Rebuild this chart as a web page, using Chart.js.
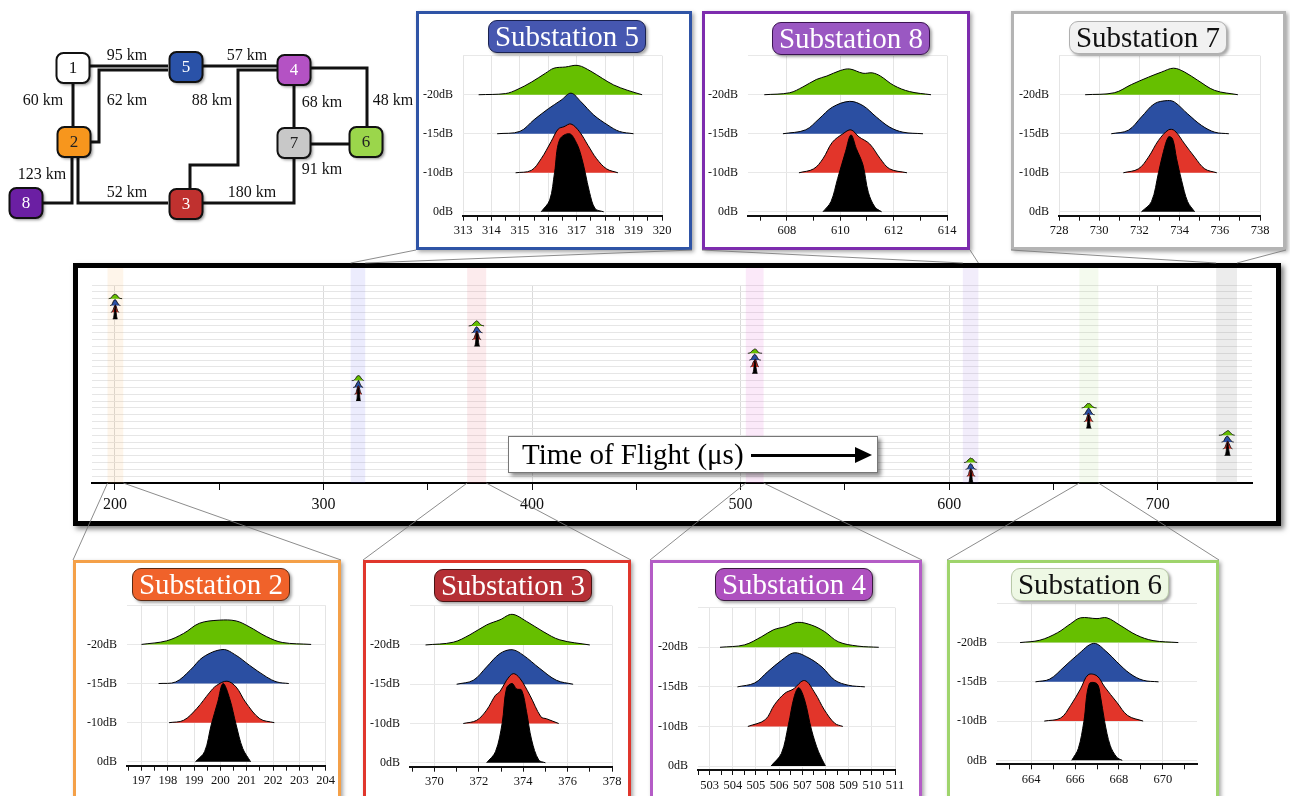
<!DOCTYPE html>
<html lang="en">
<head>
<meta charset="UTF-8">
<title>Time of Flight per substation</title>
<script src="https://cdn.jsdelivr.net/npm/chart.js"></script>
<style>
  body { margin: 0; width: 1290px; height: 796px; background: #fff; position: relative; overflow: hidden;
         font-family: 'Liberation Serif', 'Times New Roman', serif; }
  .panel { position: absolute; box-sizing: border-box; border: 3px solid #999; background: #fff;
           box-shadow: 2px 2px 4px rgba(0,0,0,0.35); }
  .panel canvas { position: absolute; left: 0; top: 0; z-index: 1; }
  .pill { position: absolute; width: 158px; height: 33px; box-sizing: border-box; border: 1px solid #333;
          border-radius: 9px; text-align: center; font-size: 29px; line-height: 31px; z-index: 2;
          box-shadow: 2px 2px 3px rgba(0,0,0,0.35); white-space: nowrap; }
  #mainBox { position: absolute; left: 73px; top: 263px; width: 1208px; height: 263px; box-sizing: border-box;
             border: 5px solid #000; background: #fff; box-shadow: 3px 3px 5px rgba(0,0,0,0.5); }
  #mainBox canvas { position: absolute; left: 0; top: 0; }
  #tof { position: absolute; left: 508px; top: 436px; width: 370px; height: 37px; box-sizing: border-box;
         border: 1px solid #777; background: #fff; box-shadow: 3px 3px 4px rgba(0,0,0,0.45);
         font-size: 29px; line-height: 35px; padding-left: 13px; z-index: 3; }
  #tof .shaft { position: absolute; left: 242px; top: 17px; width: 106px; height: 3px; background: #000; }
  #tof .head { position: absolute; left: 346px; top: 10px; width: 0; height: 0;
               border-top: 8px solid transparent; border-bottom: 8px solid transparent; border-left: 17px solid #000; }
  #net { position: absolute; left: 0; top: 40px; }
  #overlay { position: absolute; left: 0; top: 0; z-index: 5; pointer-events: none; }
</style>
</head>
<body>
<canvas id="net" width="420" height="192"></canvas>
<div id="mainBox"><canvas id="mainCanvas" width="1198" height="253"></canvas></div>
<div id="tof">Time of Flight (μs)<span class="shaft"></span><span class="head"></span></div>
<canvas id="overlay" width="1290" height="796"></canvas>
<script>
// ---- data ----
const substationNames = ['Substation 2', 'Substation 3', 'Substation 4', 'Substation 5', 'Substation 6', 'Substation 7', 'Substation 8'];
const mainRows = [24, 20, 16, 12, 8, 4, 0];
const zoomRanges = [[196.45, 204], [368.9, 378], [502.5, 511], [313, 320], [662.45, 671.55], [728, 738], [606.54, 614]];
const zoomSteps = [0.5, 1, 0.5, 0.5, 1, 1, 1];
const labelEvery = [1, 2, 1, 1, 2, 2, 2];
const levelLabels = ['0dB', '-10dB', '-15dB', '-20dB'];
const levelColors = ['#000000', '#e2352a', '#2b4fa2', '#66bf00'];
const bandColors = ['rgba(245,170,80,0.12)', 'rgba(230,90,110,0.12)', 'rgba(230,100,210,0.14)', 'rgba(110,110,240,0.13)',
                    'rgba(150,210,90,0.10)', 'rgba(110,110,110,0.13)', 'rgba(150,110,220,0.12)'];

// pulse shapes [time µs, height] for 0dB, -10dB, -15dB, -20dB
const s2Black = [[199.05,0],[199.4,0.26],[199.65,0.94],[199.9,1.53],[200.1,2.0],[200.35,1.62],[200.6,0.94],[200.85,0.34],[201.15,0]];
const s2Red   = [[198.05,0],[198.6,0.06],[199.1,0.36],[199.6,0.78],[199.85,0.95],[200.25,1.06],[200.6,0.91],[200.95,0.53],[201.5,0.1],[202.05,0]];
const s2Blue  = [[197.65,0],[198.3,0.04],[198.85,0.34],[199.35,0.68],[200.1,0.87],[200.6,0.72],[201.1,0.47],[201.75,0.17],[202.15,0.04],[202.6,0]];
const s2Green = [[197.0,0],[197.95,0.09],[198.6,0.28],[199.2,0.54],[199.95,0.62],[200.6,0.6],[201.1,0.45],[201.75,0.2],[202.35,0.05],[203.45,0]];

const s3Black = [[372.35,0],[372.75,0.28],[373.05,1.0],[373.25,1.9],[373.5,2.02],[373.7,1.88],[373.93,1.85],[374.15,1.3],[374.38,0.58],[374.7,0.07],[375.0,0]];
const s3Red   = [[371.3,0],[371.9,0.08],[372.35,0.34],[372.75,0.72],[372.95,0.81],[373.25,1.1],[373.55,1.27],[373.85,1.15],[374.3,0.72],[374.8,0.17],[375.05,0.12],[375.6,0]];
const s3Blue  = [[371.0,0],[371.75,0.1],[372.35,0.44],[372.95,0.78],[373.5,0.88],[374.0,0.74],[374.75,0.4],[375.5,0.1],[376.25,0]];
const s3Green = [[369.6,0],[370.85,0.07],[371.6,0.26],[372.35,0.51],[372.95,0.64],[373.5,0.78],[374.15,0.6],[374.9,0.34],[375.65,0.13],[377.0,0]];

const s4Black = [[505.65,0],[506.1,0.32],[506.4,1.04],[506.65,1.75],[506.85,1.98],[507.1,1.67],[507.4,0.91],[507.7,0.36],[508.0,0]];
const s4Red   = [[504.65,0],[505.4,0.17],[505.8,0.55],[506.25,0.84],[506.6,0.94],[507.1,1.16],[507.55,0.84],[507.95,0.42],[508.4,0.08],[508.75,0]];
const s4Blue  = [[504.2,0],[504.95,0.1],[505.5,0.38],[506.1,0.67],[506.65,0.86],[507.25,0.74],[507.85,0.5],[508.4,0.17],[509.0,0.04],[509.7,0]];
const s4Green = [[503.45,0],[504.5,0.06],[505.25,0.27],[505.75,0.44],[506.25,0.52],[506.8,0.63],[507.4,0.56],[507.95,0.4],[508.55,0.14],[509.4,0.03],[510.3,0]];

const s5Black = [[315.75,0],[316.05,0.3],[316.22,1.0],[316.4,1.85],[316.75,2.0],[317.0,1.75],[317.15,1.45],[317.3,1.0],[317.45,0.5],[317.65,0.08],[317.95,0]];
const s5Red   = [[314.85,0],[315.4,0.06],[315.75,0.36],[316.1,0.8],[316.35,1.12],[316.55,1.18],[316.8,1.25],[317.1,1.05],[317.4,0.7],[317.7,0.36],[318.05,0.1],[318.45,0]];
const s5Blue  = [[314.2,0],[315.0,0.06],[315.5,0.36],[316.0,0.64],[316.45,0.86],[316.8,1.04],[317.15,0.82],[317.6,0.48],[318.1,0.22],[318.5,0.06],[319.0,0]];
const s5Green = [[313.55,0],[314.5,0.03],[314.9,0.13],[315.4,0.32],[315.9,0.55],[316.2,0.68],[316.6,0.71],[317.05,0.75],[317.5,0.6],[317.9,0.42],[318.3,0.25],[318.8,0.11],[319.3,0]];

const s6Black = [[665.85,0],[666.15,0.3],[666.4,0.98],[666.65,1.95],[667.0,1.95],[667.15,1.66],[667.35,0.98],[667.6,0.38],[667.9,0.08],[668.15,0]];
const s6Red   = [[664.6,0],[665.35,0.08],[665.8,0.4],[666.25,0.82],[666.6,1.18],[667.0,1.15],[667.35,0.87],[667.9,0.48],[668.4,0.14],[669.1,0]];
const s6Blue  = [[664.2,0],[664.85,0.07],[665.5,0.38],[666.1,0.68],[666.85,0.98],[667.45,0.76],[667.9,0.51],[668.5,0.21],[669.1,0.04],[669.8,0]];
const s6Green = [[663.5,0],[664.4,0.06],[665.2,0.25],[665.8,0.48],[666.25,0.63],[667.0,0.61],[667.45,0.63],[668.05,0.44],[668.8,0.19],[669.55,0.05],[670.7,0]];

const s7Black = [[732.1,0],[732.6,0.26],[732.95,1.0],[733.2,1.55],[733.45,1.92],[733.65,1.87],[733.85,1.36],[734.1,0.8],[734.4,0.26],[734.75,0]];
const s7Red   = [[731.2,0],[731.95,0.1],[732.45,0.4],[732.95,0.83],[733.45,1.1],[733.75,1.08],[734.25,0.74],[734.75,0.4],[735.25,0.1],[735.85,0]];
const s7Blue  = [[730.6,0],[731.45,0.09],[732.1,0.43],[732.75,0.77],[733.4,0.85],[733.75,0.81],[734.4,0.51],[735.1,0.21],[735.75,0.04],[736.45,0]];
const s7Green = [[729.3,0],[730.75,0.05],[731.6,0.26],[732.45,0.45],[733.1,0.58],[733.7,0.68],[734.25,0.58],[734.9,0.37],[735.75,0.11],[736.9,0]];

const s8Black = [[609.35,0],[609.65,0.26],[609.9,0.85],[610.2,1.55],[610.4,1.97],[610.6,1.62],[610.85,1.2],[611.05,0.5],[611.3,0.12],[611.55,0]];
const s8Red   = [[608.45,0],[609.0,0.1],[609.35,0.36],[609.7,0.78],[610.1,1.0],[610.4,1.1],[610.7,0.92],[611.1,0.74],[611.5,0.36],[611.85,0.1],[612.5,0]];
const s8Blue  = [[607.85,0],[608.7,0.1],[609.2,0.38],[609.7,0.68],[610.35,0.83],[610.85,0.72],[611.35,0.43],[611.85,0.17],[612.35,0.04],[613.1,0]];
const s8Green = [[607.15,0],[608.1,0.05],[608.6,0.2],[609.1,0.39],[609.5,0.48],[610.0,0.62],[610.35,0.66],[610.85,0.55],[611.2,0.56],[611.5,0.48],[612.0,0.24],[612.6,0.08],[613.4,0]];

const curves = [
  [s2Black, s2Red, s2Blue, s2Green],
  [s3Black, s3Red, s3Blue, s3Green],
  [s4Black, s4Red, s4Blue, s4Green],
  [s5Black, s5Red, s5Blue, s5Green],
  [s6Black, s6Red, s6Blue, s6Green],
  [s7Black, s7Red, s7Blue, s7Green],
  [s8Black, s8Red, s8Blue, s8Green]
];

// network: nodes, routed links, link lengths
const nodeIds = ['1', '2', '3', '4', '5', '6', '7', '8'];
const nodeX = [73, 74, 186, 294, 186, 366, 294, 26];
const nodeY = [28, 102, 164, 30, 27, 102, 103, 163];
const nodeFill = ['#ffffff', '#f7961d', '#c0312f', '#b452c4', '#2a52a8', '#9bd64b', '#c8c8c8', '#6b1fa3'];
const nodeText = ['#111', '#222', '#fff', '#fff', '#fff', '#222', '#222', '#fff'];
const linkRoutes = [
  [[90, 26], [168, 26]],
  [[90, 102], [99, 102], [99, 30], [168, 30]],
  [[203, 26], [278, 26]],
  [[278, 30], [238, 30], [238, 125], [190, 125], [190, 148]],
  [[310, 28], [367, 28], [367, 87]],
  [[294, 45], [294, 88]],
  [[310, 104], [349, 104]],
  [[294, 118], [294, 163], [202, 163]],
  [[78, 117], [78, 163], [168, 163]],
  [[72, 117], [72, 163], [42, 163]],
  [[73, 43], [73, 87]]
];
const linkLabels = ['95 km', '57 km', '60 km', '62 km', '88 km', '68 km', '48 km', '91 km', '123 km', '52 km', '180 km'];
const linkLabelX = [127, 247, 43, 127, 212, 322, 393, 322, 42, 127, 252];
const linkLabelY = [16, 16, 61, 61, 61, 63, 61, 130, 135, 153, 153];

// ---- layout of the zoom panels (page px) ----
const panelLayout = [
  { box: [73, 560, 268, 240], plot: [127, 605.3, 327, 765.7], pill: [132, 568], border: '#f4a048', pillBg: '#f0622a', pillFg: '#fff', pillBorder: '#5a2a14', top: false },
  { box: [363, 560, 268, 240], plot: [410, 605.7, 612, 766.7], pill: [434, 569], border: '#e0362c', pillBg: '#b52f35', pillFg: '#fff', pillBorder: '#4a1414', top: false },
  { box: [650, 560, 272, 240], plot: [698, 607.7, 895, 770], pill: [715, 568], border: '#b45cc6', pillBg: '#ae50bf', pillFg: '#fff', pillBorder: '#3a1a40', top: false },
  { box: [416, 11, 276, 239], plot: [463, 55.7, 662, 215.7], pill: [488, 20], border: '#2f54a6', pillBg: '#4657b0', pillFg: '#fff', pillBorder: '#1a2250', top: true },
  { box: [947, 560, 272, 240], plot: [997, 603.3, 1197, 764.3], pill: [1011, 568], border: '#9fd46c', pillBg: '#eef8e4', pillFg: '#111', pillBorder: '#b8c8a8', top: false },
  { box: [1011, 11, 275, 239], plot: [1059, 55.7, 1260, 215.7], pill: [1069, 21], border: '#b4b4b4', pillBg: '#f1f1f1', pillFg: '#111', pillBorder: '#b0b0b0', top: true },
  { box: [702, 11, 268, 239], plot: [748, 55.7, 947, 215.7], pill: [772, 22], border: '#7d2cae', pillBg: '#9a58c2', pillFg: '#fff', pillBorder: '#3a1450', top: true }
];

Chart.defaults.font.family = "'Liberation Serif', 'Times New Roman', serif";
Chart.defaults.color = '#111';

function ridgeChart(cv, i, pad) {
  const every = labelEvery[i];
  const onLabel = v => Math.abs(v / every - Math.round(v / every)) < 1e-6;
  return new Chart(cv, {
    type: 'scatter',
    data: {
      datasets: curves[i].map((pts, lv) => ({
        data: pts.map(p => ({ x: p[0], y: lv + p[1] })),
        showLine: true,
        fill: { value: lv },
        backgroundColor: levelColors[lv],
        borderColor: '#000',
        borderWidth: 1,
        pointRadius: 0,
        tension: 0.35
      }))
    },
    options: {
      responsive: false, animation: false, devicePixelRatio: 1,
      layout: { padding: { left: 0, top: pad.top, right: pad.right, bottom: 0 } },
      plugins: { legend: { display: false }, tooltip: { enabled: false } },
      scales: {
        x: {
          type: 'linear', min: zoomRanges[i][0], max: zoomRanges[i][1],
          afterFit: s => { s.height = pad.xh; },
          border: { color: '#111', width: 2 },
          grid: { color: c => (c.tick && onLabel(c.tick.value)) ? '#e4e4e4' : 'rgba(0,0,0,0)', tickColor: '#111', tickLength: 5 },
          ticks: { stepSize: zoomSteps[i], includeBounds: false, autoSkip: false, maxRotation: 0, maxTicksLimit: 1000,
                   padding: 3, font: { size: 12.5 }, color: '#111', callback: v => onLabel(v) ? v : '' }
        },
        y: {
          type: 'linear', min: -0.1, max: 4,
          afterFit: s => { s.width = pad.yw; },
          border: { display: false },
          grid: { color: '#e8e8e8', drawTicks: false },
          ticks: { stepSize: 1, includeBounds: false, padding: 10, font: { size: 12 }, color: '#111',
                   callback: v => levelLabels[v] || '' }
        }
      }
    }
  });
}

// zoom panels
const panels = panelLayout.map((L, i) => {
  const panel = document.createElement('div');
  panel.className = 'panel';
  Object.assign(panel.style, { left: L.box[0] + 'px', top: L.box[1] + 'px', width: L.box[2] + 'px', height: L.box[3] + 'px', borderColor: L.border });
  document.body.appendChild(panel);
  const ox = L.box[0] + 3, oy = L.box[1] + 3, cw = L.box[2] - 6, ch = L.box[3] - 6;
  const cv = document.createElement('canvas');
  cv.width = cw; cv.height = ch;
  panel.appendChild(cv);
  const pill = document.createElement('div');
  pill.className = 'pill';
  pill.textContent = substationNames[i];
  Object.assign(pill.style, { left: (L.pill[0] - ox) + 'px', top: (L.pill[1] - oy) + 'px', background: L.pillBg, color: L.pillFg, borderColor: L.pillBorder });
  panel.appendChild(pill);
  const [pl, pt, pr, pb] = L.plot;
  ridgeChart(cv, i, { yw: pl - ox, top: pt - oy, right: ox + cw - pr, xh: oy + ch - pb });
  return panel;
});

// main time-of-flight view
const mainSets = [];
curves.forEach((set, i) => set.forEach((pts, lv) => {
  mainSets.push({
    data: pts.map(p => ({ x: p[0], y: mainRows[i] + lv + p[1] })),
    showLine: true,
    fill: { value: mainRows[i] + lv },
    backgroundColor: levelColors[lv],
    borderColor: '#000',
    borderWidth: 0.8,
    pointRadius: 0,
    tension: 0.35
  });
}));

const bandPlugin = {
  id: 'bands',
  beforeDatasetsDraw(chart) {
    const { ctx, chartArea, scales: { x } } = chart;
    ctx.save();
    zoomRanges.forEach((r, i) => {
      const a = x.getPixelForValue(r[0]), b = x.getPixelForValue(r[1]);
      ctx.fillStyle = bandColors[i];
      ctx.fillRect(a, 0, b - a, chartArea.bottom);
    });
    ctx.restore();
  }
};

const mainCv = document.getElementById('mainCanvas');
const mainChart = new Chart(mainCv, {
  type: 'scatter',
  data: { datasets: mainSets },
  options: {
    responsive: false, animation: false, devicePixelRatio: 1,
    layout: { padding: { left: 0, top: 17, right: 24, bottom: 0 } },
    plugins: { legend: { display: false }, tooltip: { enabled: false } },
    scales: {
      x: {
        type: 'linear', min: 189, max: 745.2,
        afterFit: s => { s.height = 38; },
        border: { color: '#000', width: 2 },
        grid: { color: c => (c.tick && c.tick.value % 100 === 0) ? '#dadada' : 'rgba(0,0,0,0)', tickColor: '#111', tickLength: 7 },
        ticks: { stepSize: 50, includeBounds: false, autoSkip: false, maxRotation: 0, maxTicksLimit: 1000,
                 padding: 5, font: { size: 16 }, color: '#111', callback: v => v % 100 === 0 ? v : '' }
      },
      y: {
        type: 'linear', min: 0, max: 29,
        afterFit: s => { s.width = 14; },
        border: { display: false },
        grid: { color: '#e6e6e6', drawTicks: false },
        ticks: { display: false, stepSize: 1, includeBounds: false, maxTicksLimit: 1000 }
      }
    }
  },
  plugins: [bandPlugin]
});

// network diagram
const netPlugin = {
  id: 'netNodes',
  afterDatasetsDraw(chart) {
    const { ctx, scales: { x, y } } = chart;
    ctx.save();
    ctx.font = "16px 'Liberation Serif', serif";
    ctx.textAlign = 'center';
    ctx.textBaseline = 'middle';
    ctx.fillStyle = '#111';
    linkLabels.forEach((t, i) => ctx.fillText(t, x.getPixelForValue(linkLabelX[i]), y.getPixelForValue(linkLabelY[i])));
    nodeIds.forEach((id, i) => {
      const cx = x.getPixelForValue(nodeX[i]), cy = y.getPixelForValue(nodeY[i]);
      ctx.save();
      ctx.shadowColor = 'rgba(0,0,0,0.45)';
      ctx.shadowBlur = 3; ctx.shadowOffsetX = 2; ctx.shadowOffsetY = 2;
      ctx.beginPath();
      ctx.roundRect(cx - 16.5, cy - 15, 33, 30, 7);
      ctx.fillStyle = nodeFill[i];
      ctx.fill();
      ctx.restore();
      ctx.lineWidth = 2;
      ctx.strokeStyle = '#111';
      ctx.beginPath();
      ctx.roundRect(cx - 16.5, cy - 15, 33, 30, 7);
      ctx.stroke();
      ctx.fillStyle = nodeText[i];
      ctx.font = "17px 'Liberation Serif', serif";
      ctx.fillText(id, cx, cy + 1);
    });
    ctx.restore();
  }
};

new Chart(document.getElementById('net'), {
  type: 'scatter',
  data: {
    datasets: linkRoutes.map(r => ({
      data: r.map(p => ({ x: p[0], y: p[1] })),
      showLine: true, borderColor: '#111', borderWidth: 3, pointRadius: 0, fill: false, tension: 0
    }))
  },
  options: {
    responsive: false, animation: false, devicePixelRatio: 1,
    layout: { padding: 0 },
    plugins: { legend: { display: false }, tooltip: { enabled: false } },
    scales: {
      x: { type: 'linear', min: 0, max: 420, display: false },
      y: { type: 'linear', min: 0, max: 192, reverse: true, display: false }
    }
  },
  plugins: [netPlugin]
});

// connector lines between the bands and the zoom panels
const ov = document.getElementById('overlay').getContext('2d');
const mRect = mainCv.getBoundingClientRect();
const boxRect = document.getElementById('mainBox').getBoundingClientRect();
const mx = mainChart.scales.x;
ov.strokeStyle = 'rgba(120,120,120,0.85)';
ov.lineWidth = 1;
panels.forEach((p, i) => {
  const r = p.getBoundingClientRect();
  const a = mRect.left + mx.getPixelForValue(zoomRanges[i][0]);
  const b = mRect.left + mx.getPixelForValue(zoomRanges[i][1]);
  let y0, y1;
  if (panelLayout[i].top) { y0 = boxRect.top; y1 = r.bottom; }
  else { y0 = mRect.top + mx.top; y1 = r.top; }
  ov.beginPath();
  ov.moveTo(a, y0); ov.lineTo(r.left, y1);
  ov.moveTo(b, y0); ov.lineTo(r.right, y1);
  ov.stroke();
});
</script>
</body>
</html>
